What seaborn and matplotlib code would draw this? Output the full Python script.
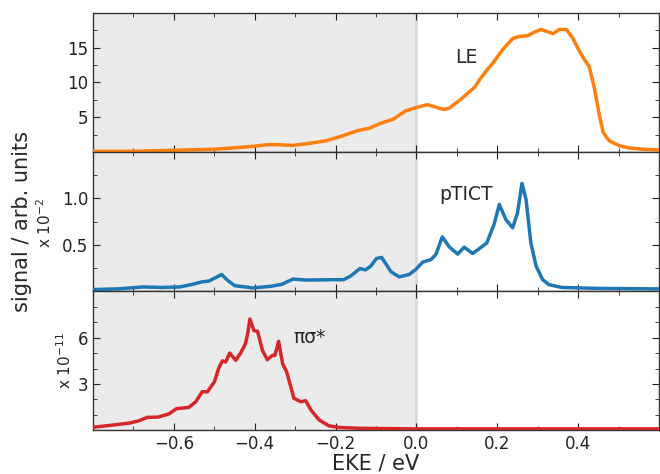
import numpy as np
import matplotlib
matplotlib.use("Agg")
import matplotlib.pyplot as plt
from matplotlib.ticker import MultipleLocator
import seaborn as sns

# LE signal (arb. units)
le_x = [-0.80, -0.70, -0.60, -0.50, -0.45, -0.405, -0.369, -0.342, -0.306, -0.27,
        -0.225, -0.189, -0.144, -0.117, -0.09, -0.058, -0.027, 0.0, 0.027, 0.045,
        0.067, 0.081, 0.108, 0.144, 0.155, 0.172, 0.192, 0.213, 0.238, 0.254,
        0.275, 0.291, 0.308, 0.324, 0.338, 0.353, 0.371, 0.386, 0.403, 0.415,
        0.427, 0.44, 0.452, 0.462, 0.477, 0.502, 0.526, 0.56, 0.60]
le_y = [0.1, 0.1, 0.25, 0.4, 0.6, 0.8, 1.05, 1.05, 0.95, 1.2,
        1.6, 2.2, 3.1, 3.4, 4.1, 4.7, 5.9, 6.4, 6.8, 6.5,
        6.1, 6.3, 7.5, 9.3, 10.3, 11.6, 13.0, 14.7, 16.3, 16.6,
        16.7, 17.2, 17.6, 17.3, 17.0, 17.6, 17.6, 16.4, 14.5, 13.3,
        12.3, 9.2, 5.4, 2.8, 1.6, 0.9, 0.57, 0.4, 0.3]

# pTICT signal (x 10^-2)
pt_x = [-0.80, -0.738, -0.675, -0.63, -0.585, -0.558, -0.531, -0.513, -0.495, -0.482,
        -0.468, -0.45, -0.405, -0.36, -0.333, -0.306, -0.27, -0.207, -0.18, -0.162,
        -0.14, -0.126, -0.113, -0.099, -0.086, -0.081, -0.063, -0.043, -0.018, -0.002,
        0.015, 0.036, 0.048, 0.064, 0.081, 0.102, 0.118, 0.139, 0.155, 0.174,
        0.192, 0.205, 0.221, 0.238, 0.25, 0.261, 0.271, 0.283, 0.296, 0.312,
        0.328, 0.36, 0.45, 0.60]
pt_y = [0.018, 0.025, 0.046, 0.04, 0.046, 0.07, 0.10, 0.11, 0.15, 0.18,
        0.12, 0.06, 0.035, 0.053, 0.074, 0.13, 0.12, 0.124, 0.124, 0.166,
        0.244, 0.23, 0.27, 0.353, 0.364, 0.33, 0.21, 0.154, 0.18, 0.233,
        0.312, 0.341, 0.395, 0.586, 0.478, 0.40, 0.474, 0.406, 0.457, 0.52,
        0.72, 0.935, 0.773, 0.683, 0.845, 1.162, 0.99, 0.52, 0.27, 0.125,
        0.07, 0.04, 0.03, 0.025]

# pi-sigma* signal (x 10^-11)
ps_x = [-0.80, -0.756, -0.711, -0.689, -0.666, -0.639, -0.612, -0.594, -0.563, -0.546,
        -0.53, -0.517, -0.50, -0.488, -0.48, -0.472, -0.462, -0.447, -0.435, -0.423,
        -0.417, -0.412, -0.402, -0.393, -0.381, -0.369, -0.356, -0.35, -0.341, -0.331,
        -0.321, -0.303, -0.286, -0.274, -0.261, -0.241, -0.217, -0.192, -0.135, 0.0,
        0.60]
ps_y = [0.2, 0.33, 0.47, 0.6, 0.84, 0.86, 1.07, 1.4, 1.49, 1.85,
        2.5, 2.5, 3.13, 4.1, 4.5, 4.42, 5.0, 4.53, 5.0, 5.6,
        6.34, 7.2, 6.45, 6.4, 5.17, 4.57, 4.85, 4.85, 5.76, 4.3,
        3.78, 2.07, 1.85, 1.92, 1.32, 0.68, 0.3, 0.19, 0.13, 0.1,
        0.1]

sns.set_style("ticks")
plt.rcParams['font.family'] = ['DejaVu Sans']

fig, axes = plt.subplots(3, 1, figsize=(6.6, 4.74), dpi=100, sharex=True)
fig.subplots_adjust(left=0.141, right=0.9985, top=0.973, bottom=0.092, hspace=0)

series = [(le_x, le_y, '#ff7f0e', (0, 20), [5, 10, 15], 2.5, 'LE', (0.123, 13.6)),
          (pt_x, pt_y, '#1f77b4', (0, 1.5), [0.5, 1.0], 0.25, 'pTICT', (0.123, 1.04)),
          (ps_x, ps_y, '#d62728', (0, 9), [3, 6], 1, 'πσ*', (-0.265, 6.0))]

for ax, (xs, ys, col, ylim, yt, ymin, lab, pos) in zip(axes, series):
    ax.axvspan(-0.8, 0, color='#ebebeb', lw=0, zorder=0)
    ax.axvline(0, color='#dadada', lw=2, zorder=0.5)
    sns.lineplot(x=xs, y=ys, ax=ax, color=col, lw=2.5, zorder=3)
    ax.set_xlim(-0.8, 0.6)
    ax.set_ylim(*ylim)
    ax.set_yticks(yt)
    ax.yaxis.set_minor_locator(MultipleLocator(ymin))
    ax.set_xticks([-0.6, -0.4, -0.2, 0.0, 0.2, 0.4])
    ax.xaxis.set_minor_locator(MultipleLocator(0.1))
    ax.tick_params(which='both', direction='in', top=True, right=True,
                   colors='#222222', labelsize=12)
    ax.tick_params(which='major', length=5)
    ax.tick_params(which='minor', length=3)
    for s in ax.spines.values():
        s.set_color('#333333')
        s.set_linewidth(1)
    ax.text(pos[0], pos[1], lab, ha='center', va='center', fontsize=13.5)
    ax.set_ylabel('')

axes[1].text(-0.085, 0.49, r'x 10$^{-2}$', transform=axes[1].transAxes,
             rotation=90, ha='center', va='center', fontsize=11)
axes[2].text(-0.05, 0.50, r'x 10$^{-11}$', transform=axes[2].transAxes,
             rotation=90, ha='center', va='center', fontsize=11)

axes[2].set_xlabel('EKE / eV', fontsize=15, labelpad=0)
fig.text(0.033, 0.533, 'signal / arb. units', rotation=90, ha='center',
         va='center', fontsize=15)

fig.savefig('out.png', dpi=100)
